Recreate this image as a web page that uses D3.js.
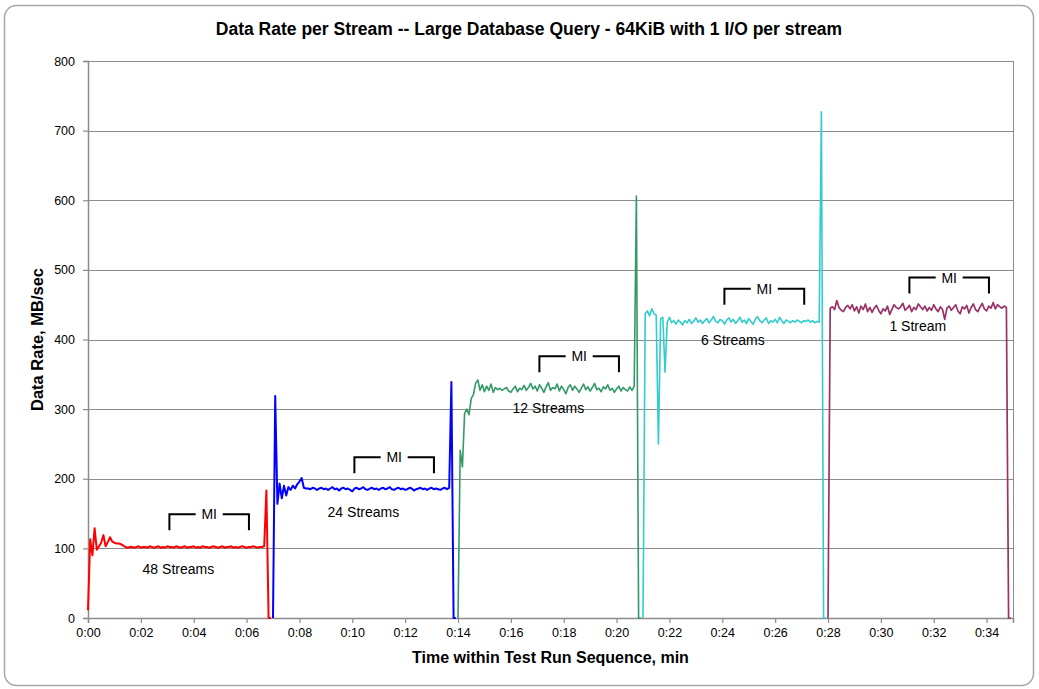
<!DOCTYPE html>
<html>
<head>
<meta charset="utf-8">
<script src="https://cdn.jsdelivr.net/npm/d3@7"></script>
<style>
  html, body { margin: 0; padding: 0; background: #fff; }
  svg { display: block; font-family: Arial, "Liberation Sans", sans-serif; }
</style>
</head>
<body>
<svg id="chart" width="1039" height="689"></svg>
<script>
// ---------------- DATA ----------------
const sampleStepMin = 5 / 60;                 // one sample every 5 s
const seriesNames  = ["48 Streams", "24 Streams", "12 Streams", "6 Streams", "1 Stream"];
const seriesStart  = [0, 7, 14, 21, 28];       // minutes
const seriesColors = ["#ff0000", "#0000ff", "#339966", "#33cccc", "#993366"];
const seriesWidths = [2, 2, 1.6, 1.6, 1.7];

const rate48 = [
  11,113,90,129,98,103,108,119,103,109,116,110,108,107,107,106,104,
  102,101,102,102,101,102,103,101,
  102,102,101,103,102,101,102,103,
  101,102,101,103,102,102,101,103,
  102,101,102,103,101,102,102,103,
  101,102,101,103,102,102,101,102,
  103,102,101,102,103,101,102,102,
  103,101,102,101,102,103,102,101,
  102,102,103,102,101,102,102,103,
  183,0,0
];
const rate24 = [
  0,319,164,193,172,190,176,188,184,190,186,192,196,201,187,186,
  186,185,187,186,184,186,187,185,
  186,184,186,188,185,186,183,186,
  187,185,186,184,182,186,187,185,
  186,188,185,184,186,187,185,186,
  184,186,187,185,186,188,185,184,
  186,187,185,186,184,185,187,186,
  183,185,186,187,185,186,184,186,
  187,185,186,185,184,186,187,185,
  187,
  339,0,0
];
const rate12 = [
  0,241,217,294,300,292,315,321,337,342,327,335,
  325,333,327,336,324,331,328,330,
  327,329,331,326,324,329,333,325,
  330,328,334,327,331,337,329,333,
  326,335,330,324,332,338,327,331,
  329,336,326,333,328,322,331,335,
  327,333,329,324,330,336,328,332,
  326,331,337,328,330,325,332,329,
  335,327,330,324,329,333,326,331,
  328,326,332,327,333,
  606,0,0
];
const rate6 = [
  0,437,441,434,444,437,435,250,430,432,353,425,432,
  424,427,422,428,425,421,427,424,
  429,423,426,431,425,428,423,427,
  430,424,428,433,426,424,429,427,
  422,428,431,425,429,423,427,432,
  425,428,423,430,426,422,429,433,
  427,424,428,431,423,427,425,429,
  424,432,427,423,428,426,424,427,
  425,428,426,424,427,426,428,425,
  427,424,426,425,
  727,0,0
];
const rate1 = [
  0,445,
  447,443,456,446,442,440,446,449,
  444,450,441,447,438,448,443,451,
  440,446,439,445,449,442,437,444,
  441,448,436,443,450,446,444,447,
  452,442,445,449,440,446,443,451,
  447,443,448,441,446,442,450,444,
  440,447,443,429,445,448,442,446,
  450,441,437,447,444,449,438,446,
  451,443,440,446,452,444,441,448,
  445,453,444,450,447,445,448,446,
  0,0
];
const seriesRates = [rate48, rate24, rate12, rate6, rate1];

// Measurement-interval (MI) brackets
const miStart = [3.08, 10.08, 17.08, 24.08, 31.08];
const miEnd   = [6.09, 13.09, 20.09, 27.10, 34.09];
const miTop   = [149, 231, 376, 473, 489];
const miLabel = "MI";

// Stream labels (centre positions, in data units)
const labelTime = [3.42, 10.42, 17.42, 24.40, 31.40];
const labelRate = [71, 152, 302, 399, 420];

// Axes
const xTickValues = d3.range(0, 35, 2);
const yTickValues = d3.range(0, 801, 100);
const titleText  = "Data Rate per Stream -- Large Database Query - 64KiB with 1 I/O per stream";
const xAxisTitle = "Time within Test Run Sequence, min";
const yAxisTitle = "Data Rate, MB/sec";

// ---------------- CHART ----------------
const svg = d3.select("#chart");
const plot = { left: 88, right: 1013, top: 61, bottom: 618 };

const x = d3.scaleLinear().domain([0, 35]).range([plot.left, plot.right]);
const y = d3.scaleLinear().domain([0, 800]).range([plot.bottom, plot.top]);

// outer frame
svg.append("rect")
  .attr("x", 4.5).attr("y", 5.5).attr("width", 1029).attr("height", 680)
  .attr("rx", 12).attr("ry", 12)
  .attr("fill", "#fff").attr("stroke", "#a6a6a6").attr("stroke-width", 1.5);

// gridlines
svg.append("g").selectAll("line")
  .data(yTickValues.filter(d => d > 0))
  .join("line")
  .attr("x1", plot.left).attr("x2", plot.right)
  .attr("y1", d => Math.round(y(d)) + 0.5).attr("y2", d => Math.round(y(d)) + 0.5)
  .attr("stroke", "#8c8c8c").attr("stroke-width", 1);

// right border
svg.append("line")
  .attr("x1", plot.right + 0.5).attr("x2", plot.right + 0.5)
  .attr("y1", plot.top).attr("y2", plot.bottom)
  .attr("stroke", "#8c8c8c").attr("stroke-width", 1);

// y axis
const yAxis = d3.axisLeft(y).tickValues(yTickValues).tickSize(5).tickPadding(8).tickFormat(d3.format("d"));
const gy = svg.append("g").attr("transform", `translate(${plot.left},0)`).call(yAxis);
gy.select(".domain").attr("stroke", "#8c8c8c").attr("stroke-width", 1.5);
gy.selectAll(".tick line").attr("stroke", "#8c8c8c").attr("stroke-width", 1.2);
gy.selectAll(".tick text").attr("font-size", 12.5).attr("fill", "#000")
  .attr("font-family", "Arial, 'Liberation Sans', sans-serif");

// x axis
const xAxis = d3.axisBottom(x).tickValues(xTickValues).tickSize(5).tickPadding(5)
  .tickFormat(d => "0:" + String(d).padStart(2, "0"));
const gx = svg.append("g").attr("transform", `translate(0,${plot.bottom})`).call(xAxis);
gx.select(".domain").attr("stroke", "#8c8c8c").attr("stroke-width", 1.5);
gx.selectAll(".tick line").attr("stroke", "#8c8c8c").attr("stroke-width", 1.2);
gx.selectAll(".tick text").attr("font-size", 12.5).attr("fill", "#000")
  .attr("font-family", "Arial, 'Liberation Sans', sans-serif");

// series lines
const line = d3.line().x(d => x(d.t)).y(d => y(d.v));
seriesRates.forEach((rates, k) => {
  const pts = rates.map((v, i) => ({ t: seriesStart[k] + i * sampleStepMin, v }));
  svg.append("path")
    .datum(pts)
    .attr("d", line)
    .attr("fill", "none")
    .attr("stroke", seriesColors[k])
    .attr("stroke-width", seriesWidths[k])
    .attr("stroke-linejoin", "round");
});

// MI brackets
const miGroup = svg.append("g");
miStart.forEach((s, k) => {
  const x0 = x(s), x1 = x(miEnd[k]), yt = y(miTop[k]);
  const xc = (x0 + x1) / 2, gap = 13.5, tick = 16;
  miGroup.append("path")
    .attr("d", `M${x0},${yt + tick}V${yt}H${xc - gap}M${xc + gap},${yt}H${x1}V${yt + tick}`)
    .attr("fill", "none").attr("stroke", "#000").attr("stroke-width", 2);
  miGroup.append("text")
    .attr("x", xc).attr("y", yt + 5)
    .attr("text-anchor", "middle").attr("font-size", 14).attr("fill", "#000")
    .text(miLabel);
});

// stream labels
svg.append("g").selectAll("text")
  .data(seriesNames)
  .join("text")
  .attr("x", (d, i) => x(labelTime[i]))
  .attr("y", (d, i) => y(labelRate[i]) + 5)
  .attr("text-anchor", "middle").attr("font-size", 14).attr("fill", "#000")
  .text(d => d);

// titles
svg.append("text")
  .attr("x", 529).attr("y", 35)
  .attr("text-anchor", "middle").attr("font-size", 17.5).attr("font-weight", "bold")
  .text(titleText);

svg.append("text")
  .attr("x", (plot.left + plot.right) / 2).attr("y", 663)
  .attr("text-anchor", "middle").attr("font-size", 16).attr("font-weight", "bold")
  .text(xAxisTitle);

svg.append("text")
  .attr("transform", `translate(43,${y(400)}) rotate(-90)`)
  .attr("text-anchor", "middle").attr("font-size", 16.5).attr("font-weight", "bold")
  .text(yAxisTitle);
</script>
</body>
</html>
